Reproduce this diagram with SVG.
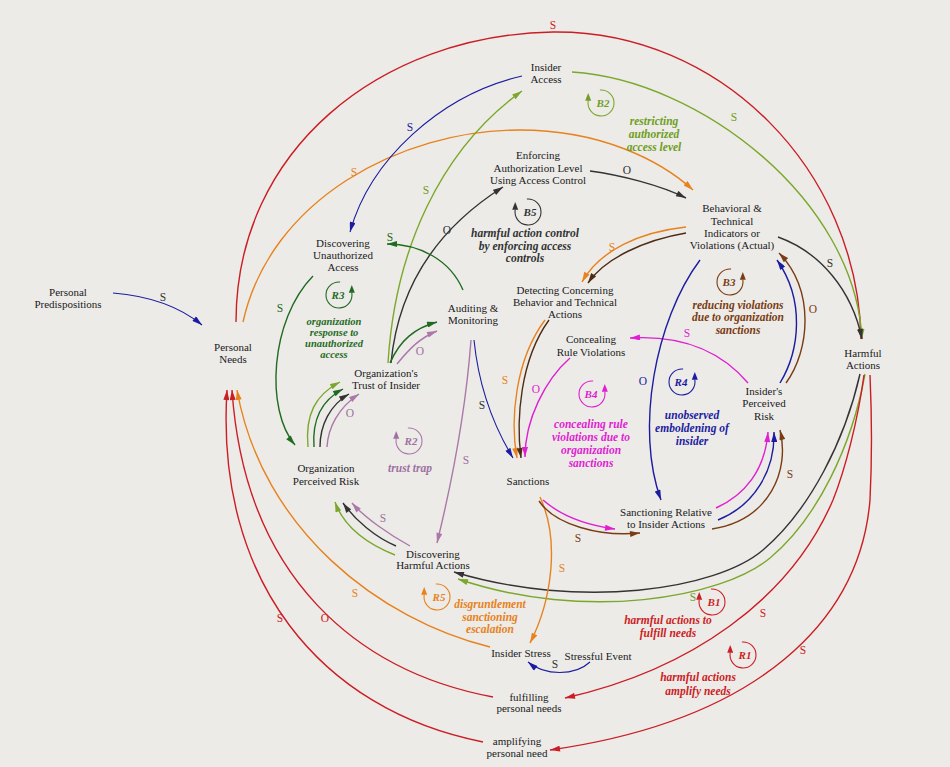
<svg xmlns="http://www.w3.org/2000/svg" width="950" height="767" viewBox="0 0 950 767">
<style>
.n{font-family:"Liberation Serif","Times New Roman",serif;font-size:11px;fill:#1a1a1a;text-anchor:middle}
.l{font-family:"Liberation Serif","Times New Roman",serif;font-size:11.5px;font-weight:bold;font-style:italic;text-anchor:middle}
.ls{font-size:10.5px}
.id{font-family:"Liberation Serif","Times New Roman",serif;font-size:11px;font-weight:bold;font-style:italic;text-anchor:middle}
.p{font-family:"Liberation Serif","Times New Roman",serif;font-size:11.5px;text-anchor:middle}
.e{fill:none;stroke-width:1.4}
.lp{fill:none;stroke-width:1.1}
.red{stroke:#cc1d24}.or{stroke:#e8821c}.yg{stroke:#7ba82a}.dg{stroke:#1f6b1f}.bk{stroke:#333}.mv{stroke:#ab78a8}.nv{stroke:#1c1ca0}.mg{stroke:#e01ed2}.br{stroke:#7a3c12}.db{stroke:#4e2c14}
.fred{fill:#cc1d24}.for{fill:#e8821c}.fyg{fill:#6f9e22}.fdg{fill:#1f6b1f}.fbk{fill:#333}.fmv{fill:#a070a0}.fnv{fill:#1c1ca0}.fmg{fill:#e01ed2}.fbr{fill:#7a3c12}
</style>
<defs>
<marker id="m-red" viewBox="0 0 10 6" refX="10" refY="3" markerWidth="11" markerHeight="6" markerUnits="userSpaceOnUse" orient="auto"><path d="M0,0L10,3L0,6z" fill="#cc1d24"/></marker>
<marker id="m-or" viewBox="0 0 10 6" refX="10" refY="3" markerWidth="11" markerHeight="6" markerUnits="userSpaceOnUse" orient="auto"><path d="M0,0L10,3L0,6z" fill="#e8821c"/></marker>
<marker id="m-yg" viewBox="0 0 10 6" refX="10" refY="3" markerWidth="11" markerHeight="6" markerUnits="userSpaceOnUse" orient="auto"><path d="M0,0L10,3L0,6z" fill="#7ba82a"/></marker>
<marker id="m-dg" viewBox="0 0 10 6" refX="10" refY="3" markerWidth="11" markerHeight="6" markerUnits="userSpaceOnUse" orient="auto"><path d="M0,0L10,3L0,6z" fill="#1f6b1f"/></marker>
<marker id="m-bk" viewBox="0 0 10 6" refX="10" refY="3" markerWidth="11" markerHeight="6" markerUnits="userSpaceOnUse" orient="auto"><path d="M0,0L10,3L0,6z" fill="#333"/></marker>
<marker id="m-mv" viewBox="0 0 10 6" refX="10" refY="3" markerWidth="11" markerHeight="6" markerUnits="userSpaceOnUse" orient="auto"><path d="M0,0L10,3L0,6z" fill="#ab78a8"/></marker>
<marker id="m-nv" viewBox="0 0 10 6" refX="10" refY="3" markerWidth="11" markerHeight="6" markerUnits="userSpaceOnUse" orient="auto"><path d="M0,0L10,3L0,6z" fill="#1c1ca0"/></marker>
<marker id="m-mg" viewBox="0 0 10 6" refX="10" refY="3" markerWidth="11" markerHeight="6" markerUnits="userSpaceOnUse" orient="auto"><path d="M0,0L10,3L0,6z" fill="#e01ed2"/></marker>
<marker id="m-br" viewBox="0 0 10 6" refX="10" refY="3" markerWidth="11" markerHeight="6" markerUnits="userSpaceOnUse" orient="auto"><path d="M0,0L10,3L0,6z" fill="#7a3c12"/></marker>
<marker id="m-db" viewBox="0 0 10 6" refX="10" refY="3" markerWidth="11" markerHeight="6" markerUnits="userSpaceOnUse" orient="auto"><path d="M0,0L10,3L0,6z" fill="#4e2c14"/></marker>
</defs>
<rect width="950" height="767" fill="#ecebe8"/>

<g id="connectors">
<path class="e red" d="M236,322 C236,150 380,35 553,32 C720,30 858,170 861,339" marker-end="url(#m-red)"/>
<path class="e yg" d="M572,72 C700,80 855,200 862,339" marker-end="url(#m-yg)"/>
<path class="e bk" d="M778,237 C820,252 852,290 862,339" marker-end="url(#m-bk)"/>
<path class="e or" d="M243,322 C270,200 400,130 520,130 C600,130 660,160 693,190" marker-end="url(#m-or)"/>
<path class="e nv" style="stroke-width:1.1" d="M522,76 C440,95 370,160 350,232" marker-end="url(#m-nv)"/>
<path class="e yg" d="M388,363 C395,250 440,150 522,91" marker-end="url(#m-yg)"/>
<path class="e bk" d="M391,363 C398,290 435,230 503,187" marker-end="url(#m-bk)"/>
<path class="e bk" d="M590,171 C620,175 660,185 686,198" marker-end="url(#m-bk)"/>
<path class="e dg" d="M463,290 C450,260 420,244 387,244" marker-end="url(#m-dg)"/>
<path class="e dg" d="M313,276 C270,320 265,410 295,445" marker-end="url(#m-dg)"/>
<path class="e yg" d="M308,447 C305,415 315,395 340,382" marker-end="url(#m-yg)"/>
<path class="e dg" d="M314,447 C312,420 322,400 343,389" marker-end="url(#m-dg)"/>
<path class="e bk" d="M320,447 C320,425 330,405 349,394" marker-end="url(#m-bk)"/>
<path class="e mv" d="M327,447 C328,428 338,408 359,394" marker-end="url(#m-mv)"/>
<path class="e dg" d="M390,363 C400,340 415,328 437,322" marker-end="url(#m-dg)"/>
<path class="e mv" d="M397,364 C410,348 420,338 437,331" marker-end="url(#m-mv)"/>
<path class="e nv" style="stroke-width:1.1" d="M474,340 C478,380 490,420 513,458" marker-end="url(#m-nv)"/>
<path class="e mv" d="M471,340 C465,420 450,490 437,543" marker-end="url(#m-mv)"/>
<path class="e yg" d="M395,555 C370,545 345,530 335,502" marker-end="url(#m-yg)"/>
<path class="e bk" d="M396,546 C375,537 355,520 343,503" marker-end="url(#m-bk)"/>
<path class="e mv" d="M410,546 C390,535 365,518 352,503" marker-end="url(#m-mv)"/>
<path class="e yg" d="M865,374 C852,445 818,518 770,558 C722,598 585,622 458,579" marker-end="url(#m-yg)"/>
<path class="e bk" d="M860,374 C845,440 810,510 763,550 C716,590 580,610 454,572" marker-end="url(#m-bk)"/>
<path class="e red" d="M864,375 C858,420 845,470 833,500 C790,600 690,670 565,698" marker-end="url(#m-red)"/>
<path class="e red" d="M870,375 C872,420 872,460 870,500 C860,620 760,720 550,750" marker-end="url(#m-red)"/>
<path class="e red" d="M493,697 C360,672 245,580 232,390" marker-end="url(#m-red)"/>
<path class="e red" d="M483,742 C320,710 215,580 227,390" marker-end="url(#m-red)"/>
<path class="e or" d="M490,647 C380,620 262,530 237,390" marker-end="url(#m-or)"/>
<path class="e or" d="M540,497 C560,540 552,600 530,643" marker-end="url(#m-or)"/>
<path class="e nv" style="stroke-width:1.1" d="M590,662 C575,676 545,676 528,662" marker-end="url(#m-nv)"/>
<path class="e mg" d="M543,500 C560,515 585,525 615,529" marker-end="url(#m-mg)"/>
<path class="e br" d="M539,501 C555,525 600,537 640,533" marker-end="url(#m-br)"/>
<path class="e mg" d="M716,508 C745,495 765,470 768,432" marker-end="url(#m-mg)"/>
<path class="e nv" d="M718,520 C755,505 775,470 774,432" marker-end="url(#m-nv)"/>
<path class="e br" d="M712,529 C770,520 790,470 780,430" marker-end="url(#m-br)"/>
<path class="e mg" d="M748,383 C720,350 680,335 630,338" marker-end="url(#m-mg)"/>
<path class="e nv" d="M780,383 C800,350 805,300 777,260" marker-end="url(#m-nv)"/>
<path class="e br" d="M786,383 C810,350 815,290 779,253" marker-end="url(#m-br)"/>
<path class="e or" d="M686,227 C640,232 600,250 582,282" marker-end="url(#m-or)"/>
<path class="e db" d="M686,233 C645,240 605,258 588,283" marker-end="url(#m-db)"/>
<path class="e or" d="M545,320 C515,360 510,420 517,458" marker-end="url(#m-or)"/>
<path class="e db" d="M549,320 C520,360 516,420 521,458" marker-end="url(#m-db)"/>
<path class="e mg" d="M570,358 C545,380 525,420 525,457" marker-end="url(#m-mg)"/>
<path class="e nv" d="M700,260 C655,320 635,430 661,500" marker-end="url(#m-nv)"/>
<path class="e nv" style="stroke-width:1.1" d="M113,293 C150,296 180,307 202,325" marker-end="url(#m-nv)"/>

<text class="p fred" x="553" y="29">S</text>
<text class="p fyg" x="734" y="121">S</text>
<text class="p fnv" x="410" y="131">S</text>
<text class="p for" x="354" y="176">S</text>
<text class="p fyg" x="426" y="194">S</text>
<text class="p fbk" x="447" y="234">O</text>
<text class="p fbk" x="627" y="174">O</text>
<text class="p fdg" x="390" y="241">S</text>
<text class="p fdg" x="280" y="312">S</text>
<text class="p fmv" x="420" y="355">O</text>
<text class="p fmv" x="350" y="417">O</text>
<text class="p fbk" x="482" y="409">S</text>
<text class="p fmv" x="466" y="464">S</text>
<text class="p fmv" x="383" y="522">S</text>
<text class="p for" x="505" y="384">S</text>
<text class="p fmg" x="536" y="393">O</text>
<text class="p for" x="612" y="251">S</text>
<text class="p fbk" x="830" y="267">S</text>
<text class="p fbr" x="813" y="313">O</text>
<text class="p fmg" x="687" y="337">S</text>
<text class="p fnv" x="643" y="385">O</text>
<text class="p fbr" x="790" y="478">S</text>
<text class="p fbr" x="578" y="542">S</text>
<text class="p for" x="562" y="572">S</text>
<text class="p fyg" x="693" y="601">S</text>
<text class="p fred" x="763" y="617">S</text>
<text class="p fred" x="803" y="654">S</text>
<text class="p fbk" x="555" y="668">S</text>
<text class="p for" x="355" y="597">S</text>
<text class="p fred" x="325" y="622">O</text>
<text class="p fred" x="280" y="622">S</text>
<text class="p fbk" x="163" y="301">S</text>
</g>

<g id="node-insider-access"><text class="n" x="546" y="71">Insider</text><text class="n" x="546" y="83">Access</text></g>
<g id="node-enforcing"><text class="n" x="538" y="159">Enforcing</text><text class="n" x="538" y="172">Authorization Level</text><text class="n" x="538" y="184">Using Access Control</text></g>
<g id="node-behavioral"><text class="n" x="732" y="212">Behavioral &amp;</text><text class="n" x="732" y="225">Technical</text><text class="n" x="732" y="237">Indicators or</text><text class="n" x="732" y="249">Violations (Actual)</text></g>
<g id="node-discovering-unauthorized"><text class="n" x="343" y="247">Discovering</text><text class="n" x="343" y="259">Unauthorized</text><text class="n" x="343" y="271">Access</text></g>
<g id="node-personal-predispositions"><text class="n" x="68" y="296">Personal</text><text class="n" x="68" y="308">Predispositions</text></g>
<g id="node-personal-needs"><text class="n" x="233" y="351">Personal</text><text class="n" x="233" y="363">Needs</text></g>
<g id="node-auditing"><text class="n" x="473" y="312">Auditing &amp;</text><text class="n" x="473" y="324">Monitoring</text></g>
<g id="node-org-trust"><text class="n" x="386" y="377">Organization's</text><text class="n" x="386" y="389">Trust of Insider</text></g>
<g id="node-org-risk"><text class="n" x="326" y="472">Organization</text><text class="n" x="326" y="485">Perceived Risk</text></g>
<g id="node-detecting"><text class="n" x="565" y="294">Detecting Concerning</text><text class="n" x="565" y="306">Behavior and Technical</text><text class="n" x="565" y="318">Actions</text></g>
<g id="node-concealing"><text class="n" x="591" y="343">Concealing</text><text class="n" x="591" y="356">Rule Violations</text></g>
<g id="node-sanctions"><text class="n" x="528" y="485">Sanctions</text></g>
<g id="node-harmful-actions"><text class="n" x="863" y="357">Harmful</text><text class="n" x="863" y="369">Actions</text></g>
<g id="node-insider-risk"><text class="n" x="764" y="395">Insider's</text><text class="n" x="764" y="407">Perceived</text><text class="n" x="764" y="420">Risk</text></g>
<g id="node-sanctioning-relative"><text class="n" x="666" y="516">Sanctioning Relative</text><text class="n" x="666" y="528">to Insider Actions</text></g>
<g id="node-discovering-harmful"><text class="n" x="433" y="558">Discovering</text><text class="n" x="433" y="569">Harmful Actions</text></g>
<g id="node-insider-stress"><text class="n" x="521" y="657">Insider Stress</text></g>
<g id="node-stressful-event"><text class="n" x="598" y="660">Stressful Event</text></g>
<g id="node-fulfilling"><text class="n" x="529" y="701">fulfilling</text><text class="n" x="529" y="712">personal needs</text></g>
<g id="node-amplifying"><text class="n" x="517" y="745">amplifying</text><text class="n" x="517" y="757">personal need</text></g>

<g id="loop-B2"><path class="lp yg" d="M599.9,90 A13,13 0 1 1 588.2,100.7"/><polygon class="fyg" points="588.2,93 585.2,100.7 591.2,100.7"/><text class="id fyg" x="603" y="107">B2</text>
<text class="l fyg" x="654" y="125">restricting</text><text class="l fyg" x="654" y="138">authorized</text><text class="l fyg" x="654" y="151">access level</text></g>
<g id="loop-B5"><path class="lp bk" d="M526.9,199 A13,13 0 1 1 515.2,209.7"/><polygon class="fbk" points="515.2,202 512.2,209.7 518.2,209.7"/><text class="id fbk" x="530" y="216">B5</text>
<text class="l fbk" x="525" y="237">harmful action control</text><text class="l fbk" x="525" y="250">by enforcing access</text><text class="l fbk" x="525" y="262">controls</text></g>
<g id="loop-R3"><path class="lp dg" d="M340.1,282 A13,13 0 1 0 351.8,292.7"/><polygon class="fdg" points="351.8,285 348.8,292.7 354.8,292.7"/><text class="id fdg" x="338" y="299">R3</text>
<text class="l ls fdg" x="334" y="324.5">organization</text><text class="l ls fdg" x="334" y="335.5">response to</text><text class="l ls fdg" x="334" y="346.5">unauthorized</text><text class="l ls fdg" x="334" y="357.5">access</text></g>
<g id="loop-R2"><path class="lp mv" d="M407.9,428 A13,13 0 1 1 396.2,438.7"/><polygon class="fmv" points="396.2,431 393.2,438.7 399.2,438.7"/><text class="id fmv" x="411" y="445">R2</text>
<text class="l fmv" x="410" y="472">trust trap</text></g>
<g id="loop-B4"><path class="lp mg" d="M593.1,381 A13,13 0 1 0 604.8,391.7"/><polygon class="fmg" points="604.8,384 601.8,391.7 607.8,391.7"/><text class="id fmg" x="591" y="398">B4</text>
<text class="l fmg" x="591" y="428">concealing rule</text><text class="l fmg" x="591" y="441">violations due to</text><text class="l fmg" x="591" y="454">organization</text><text class="l fmg" x="591" y="467">sanctions</text></g>
<g id="loop-B3"><path class="lp br" d="M731.1,269 A13,13 0 1 0 742.8,279.7"/><polygon class="fbr" points="742.8,272 739.8,279.7 745.8,279.7"/><text class="id fbr" x="729" y="286">B3</text>
<text class="l fbr" x="738" y="309">reducing violations</text><text class="l fbr" x="738" y="321">due to organization</text><text class="l fbr" x="738" y="334">sanctions</text></g>
<g id="loop-R4"><path class="lp nv" d="M683.1,369 A13,13 0 1 0 694.8,379.7"/><polygon class="fnv" points="694.8,372 691.8,379.7 697.8,379.7"/><text class="id fnv" x="681" y="386">R4</text>
<text class="l fnv" x="692" y="419">unobserved</text><text class="l fnv" x="692" y="432">emboldening of</text><text class="l fnv" x="692" y="445">insider</text></g>
<g id="loop-R5"><path class="lp or" d="M435.9,584 A13,13 0 1 1 424.2,594.7"/><polygon class="for" points="424.2,587 421.2,594.7 427.2,594.7"/><text class="id for" x="439" y="601">R5</text>
<text class="l for" x="490" y="608">disgruntlement</text><text class="l for" x="490" y="621">sanctioning</text><text class="l for" x="490" y="633">escalation</text></g>
<g id="loop-B1"><path class="lp red" d="M710.9,589 A13,13 0 1 1 699.2,599.7"/><polygon class="fred" points="699.2,592 696.2,599.7 702.2,599.7"/><text class="id fred" x="714" y="606">B1</text>
<text class="l fred" x="668" y="624">harmful actions to</text><text class="l fred" x="668" y="637">fulfill needs</text></g>
<g id="loop-R1"><path class="lp red" d="M741.9,642 A13,13 0 1 1 730.2,652.7"/><polygon class="fred" points="730.2,645 727.2,652.7 733.2,652.7"/><text class="id fred" x="745" y="659">R1</text>
<text class="l fred" x="698" y="681">harmful actions</text><text class="l fred" x="698" y="695">amplify needs</text></g>
</svg>
